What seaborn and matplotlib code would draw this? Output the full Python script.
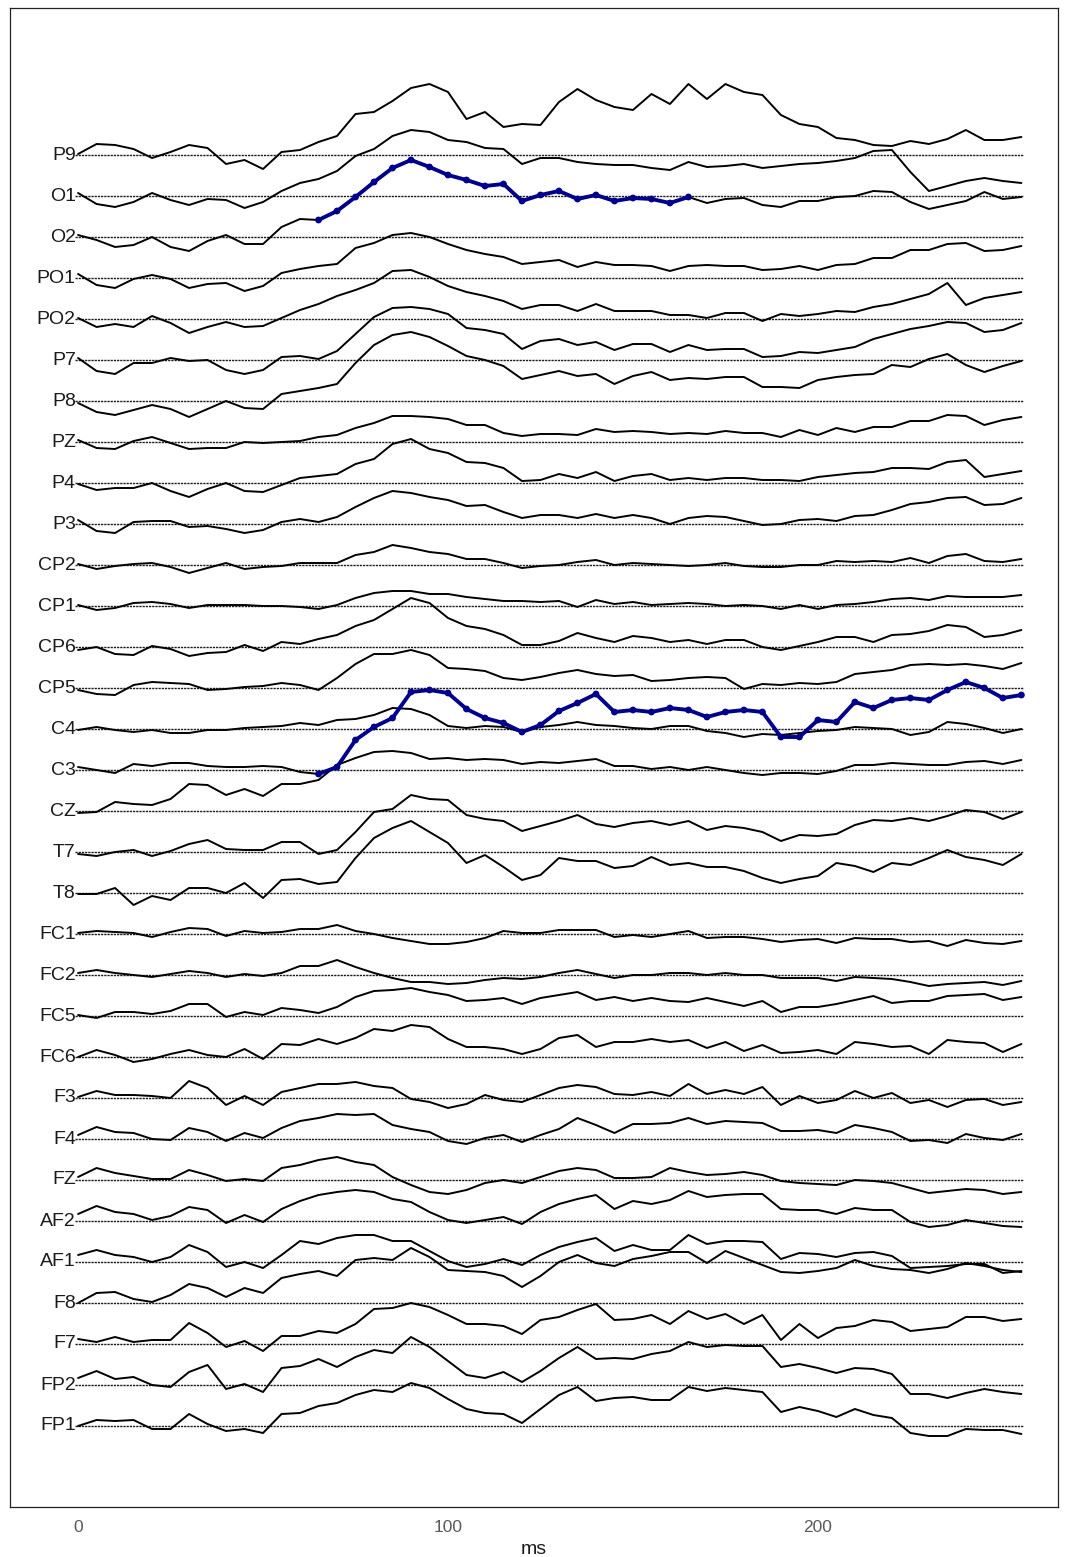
import numpy as np
import pandas as pd
import matplotlib
matplotlib.use("Agg")
import matplotlib.pyplot as plt
import seaborn as sns

# Sample times (ms)
time_ms = np.arange(0, 256, 5)

# Channels, listed from top to bottom of the stack
channels = ["P9", "O1", "O2", "PO1", "PO2", "P7", "P8", "PZ", "P4", "P3",
            "CP2", "CP1", "CP6", "CP5", "C4", "C3", "CZ", "T7", "T8", "FC1",
            "FC2", "FC5", "FC6", "F3", "F4", "FZ", "AF2", "AF1", "F8", "F7",
            "FP2", "FP1"]

# Averaged potentials per channel (arbitrary units, positive up)
P9 = [1, 11, 10, 6, -3, 3, 10, 7, -9, -5, -14, 3, 5, 13, 19, 41, 43, 54, 67, 71, 63, 36, 43, 28, 31, 30,
      53, 66, 55, 48, 45, 61, 51, 71, 56, 71, 63, 60, 40, 31, 28, 17, 15, 10, 9, 14, 11, 16, 25, 15, 15, 18]
O1 = [3, -8, -11, -6, 3, -4, -9, -3, -4, -12, -6, 5, 13, 17, 25, 40, 47, 60, 66, 64, 56, 54, 48, 47, 32, 38,
      38, 34, 32, 31, 31, 28, 26, 34, 29, 30, 32, 28, 30, 32, 33, 35, 38, 45, 46, 24, 5, 10, 15, 18, 15, 13]
O2 = [2, -3, -10, -8, 0, -10, -14, -4, 2, -7, -7, 10, 18, 17, 26, 40, 55, 69, 77, 70, 62, 57, 51, 53, 36, 42,
      46, 38, 42, 36, 39, 38, 34, 40, 34, 38, 39, 32, 30, 36, 36, 40, 41, 46, 45, 35, 28, 32, 36, 45, 38, 40]
PO1 = [4, -7, -10, -1, 3, -1, -10, -6, -5, -13, -8, 5, 9, 12, 14, 30, 35, 43, 45, 41, 34, 28, 24, 21, 14, 16,
       18, 11, 16, 13, 13, 12, 7, 12, 13, 12, 12, 8, 9, 12, 8, 13, 14, 20, 20, 28, 28, 34, 35, 27, 28, 32]
PO2 = [1, -8, -5, -8, 3, -4, -14, -8, -3, -8, -7, 1, 9, 15, 23, 29, 36, 48, 49, 42, 33, 27, 23, 18, 10, 14,
       14, 8, 15, 8, 8, 8, 4, 4, 1, 6, 6, -2, 5, 3, 5, 8, 7, 12, 15, 20, 25, 36, 14, 21, 24, 27]
P7 = [2, -11, -14, -3, -3, 2, -1, 0, -10, -14, -10, 3, 4, 1, 9, 26, 43, 52, 53, 51, 46, 32, 30, 26, 11, 19,
      21, 15, 18, 10, 16, 16, 8, 15, 10, 11, 11, 3, 4, 8, 7, 10, 13, 21, 26, 31, 34, 38, 37, 28, 30, 37]
P8 = [-2, -11, -14, -9, -4, -8, -16, -8, 0, -7, -8, 7, 10, 13, 17, 38, 56, 66, 69, 64, 55, 45, 41, 35, 22, 26,
      30, 25, 27, 17, 25, 29, 21, 23, 22, 24, 24, 14, 14, 13, 21, 24, 26, 27, 36, 34, 42, 47, 36, 29, 35, 40]
PZ = [2, -6, -7, 1, 5, -1, -7, -6, -6, 0, -1, 0, 1, 5, 7, 14, 19, 26, 26, 25, 23, 17, 17, 9, 6, 8,
      8, 7, 13, 10, 11, 10, 8, 9, 8, 11, 9, 9, 5, 12, 7, 14, 10, 15, 15, 21, 21, 27, 26, 17, 22, 25]
P4 = [-1, -7, -5, -5, 0, -8, -14, -6, 0, -8, -9, -2, 5, 7, 9, 19, 24, 39, 44, 34, 30, 21, 20, 15, 2, 3,
      9, 5, 11, 2, 7, 9, 3, 5, 3, 5, 5, 3, 3, 2, 6, 8, 10, 11, 15, 15, 14, 21, 23, 6, 9, 12]
P3 = [4, -7, -9, 2, 3, 3, -3, -2, -5, -9, -6, 2, 5, 2, 7, 17, 26, 33, 31, 27, 24, 18, 19, 12, 6, 9,
      9, 6, 10, 6, 9, 6, 0, 6, 8, 7, 3, -1, 0, 4, 5, 3, 8, 9, 14, 20, 22, 26, 27, 19, 20, 26]
CP2 = [1, -4, -1, 1, 2, -2, -8, -3, 2, -4, -2, -1, 2, 2, 2, 10, 13, 20, 17, 13, 11, 6, 6, 2, -3, -1,
       0, 3, 5, 0, 2, 1, 0, -1, 0, 2, -1, -2, -2, 0, 0, 4, 3, 4, 3, 7, 2, 9, 11, 4, 3, 6]
CP1 = [1, -4, -2, 3, 4, 2, -2, 1, 1, 1, 0, 0, -1, -3, 1, 8, 13, 15, 15, 12, 12, 9, 7, 5, 5, 4,
       5, -1, 6, 2, 4, 1, 2, 3, 2, 0, 1, 0, -3, 1, -3, 1, 2, 4, 7, 8, 6, 10, 9, 9, 9, 11]
CP6 = [-3, 0, -7, -8, 1, -2, -9, -6, -5, 2, -4, 5, 3, 8, 12, 21, 27, 38, 49, 44, 29, 21, 18, 12, 2, 2,
       6, 14, 9, 5, 11, 9, 5, 7, 3, 7, 7, 0, -3, 1, 5, 10, 10, 5, 12, 13, 16, 22, 20, 10, 12, 17]
CP5 = [-2, -6, -7, 3, 6, 5, 4, -2, -1, 1, 2, 5, 3, -2, 10, 24, 34, 34, 38, 33, 20, 19, 17, 10, 8, 11,
       15, 18, 14, 12, 13, 7, 8, 10, 11, 10, -1, 4, 3, 5, 4, 6, 14, 16, 18, 23, 24, 23, 24, 22, 19, 25]
C4 = [-1, 2, -1, -3, -1, -4, -4, -1, -1, 1, 2, 3, 6, 4, 9, 10, 14, 21, 20, 14, 3, 1, 3, 2, -3, 2,
      4, 7, 4, 3, 1, 0, 3, 3, -2, -4, -8, -5, -6, -4, -2, -1, 2, 1, 0, -6, -3, 7, 5, 1, -4, 0]
C3 = [3, 0, -3, 6, 4, 7, 7, 4, 3, 3, 4, 3, -2, -4, 3, 30, 43, 52, 78, 80, 77, 61, 52, 47, 38, 45,
      59, 67, 76, 58, 60, 58, 62, 60, 53, 58, 60, 58, 33, 33, 50, 48, 68, 62, 70, 72, 70, 80, 88, 82, 72, 75]
CZ = [-2, -1, 9, 7, 6, 12, 27, 26, 16, 22, 15, 27, 27, 31, 46, 53, 59, 60, 58, 52, 53, 51, 52, 51, 47, 49,
      48, 50, 52, 45, 45, 42, 44, 41, 44, 41, 38, 36, 38, 38, 37, 40, 46, 46, 48, 47, 46, 46, 49, 50, 47, 51]
T7 = [-2, -4, 0, 2, -4, 1, 8, 12, 3, 2, 2, 10, 10, -2, 2, 20, 40, 43, 57, 53, 52, 37, 33, 31, 21, 26,
      31, 37, 28, 25, 29, 31, 27, 31, 22, 26, 24, 20, 11, 17, 16, 18, 27, 32, 31, 34, 31, 36, 42, 40, 33, 40]
T8 = [-1, -1, 5, -12, -3, -7, 5, 5, 0, 10, -5, 13, 14, 9, 11, 35, 55, 65, 72, 61, 50, 30, 38, 26, 13, 18,
      35, 32, 32, 25, 27, 36, 28, 30, 26, 26, 22, 15, 10, 14, 17, 30, 27, 21, 30, 28, 35, 43, 36, 33, 28, 39]
FC1 = [1, 3, 2, 1, -3, 2, 6, 5, -2, 3, 1, 2, 5, 5, 9, 3, 0, -4, -7, -10, -10, -8, -4, 3, 1, 1,
       4, 4, 4, -3, -1, -3, 0, 3, -4, -3, -3, -5, -8, -6, -5, -9, -4, -5, -5, -8, -7, -12, -6, -9, -10, -7]
FC2 = [2, 5, 2, 0, -2, 1, 4, 2, -2, 1, -1, 2, 9, 9, 15, 8, 2, -3, -7, -7, -9, -8, -5, -3, -4, -2,
       2, 5, 1, -3, 0, 0, 2, 2, 0, 2, 0, 0, -3, -3, -3, -6, -2, -3, -4, -7, -11, -9, -8, -7, -10, -6]
FC5 = [1, -2, 4, 4, 2, 5, 12, 12, -1, 4, 1, 8, 6, 3, 9, 19, 25, 26, 28, 24, 21, 15, 16, 18, 12, 18,
       21, 24, 16, 19, 15, 18, 15, 14, 18, 14, 10, 15, 4, 9, 9, 12, 16, 20, 13, 15, 15, 20, 21, 22, 16, 19]
FC6 = [0, 7, 2, -5, -2, 3, 7, 2, 0, 8, -2, 13, 12, 18, 13, 19, 28, 26, 32, 30, 18, 10, 10, 8, 3, 8,
       19, 22, 10, 15, 15, 18, 15, 17, 9, 15, 6, 12, 4, 5, 7, 3, 15, 13, 10, 11, 3, 17, 15, 14, 5, 13]
F3 = [1, 7, 3, 3, 2, 0, 17, 10, -7, 2, -7, 6, 10, 14, 14, 16, 12, 10, -1, -4, -10, -6, 3, -2, -4, 3,
      10, 13, 11, 4, 3, 6, 2, 14, 4, 8, 4, 11, -7, 2, -5, -2, 7, 0, 5, -5, -2, -9, -2, -1, -7, -4]
F4 = [4, 12, 7, 6, 0, -1, 11, 7, -2, 6, 1, 11, 18, 21, 25, 24, 25, 14, 10, 7, -2, -5, 1, 4, -3, 4,
      10, 21, 14, 6, 15, 15, 16, 21, 15, 18, 17, 16, 8, 8, 9, 6, 14, 11, 7, -2, -1, -4, 5, 1, -1, 5]
FZ = [3, 12, 7, 4, 1, 1, 10, 5, -1, 1, -1, 12, 15, 20, 23, 18, 15, 3, -5, -12, -14, -10, -3, 0, -3, 3,
      9, 12, 10, 2, 2, 3, 12, 8, 5, 6, 8, 5, -1, -3, -4, -5, 0, -1, -3, -8, -13, -11, -9, -10, -14, -12]
AF2 = [7, 15, 9, 7, 1, 5, 14, 11, -2, 6, -1, 12, 20, 26, 29, 31, 29, 22, 19, 9, 1, -2, 1, 4, -3, 9,
       17, 22, 26, 12, 20, 17, 21, 30, 24, 26, 27, 27, 12, 11, 11, 7, 13, 11, 11, -1, -6, -4, 1, -2, -5, -6]
AF1 = [7, 12, 7, 5, 0, 5, 17, 10, -5, 0, -6, 7, 21, 18, 24, 27, 27, 21, 21, 11, 1, -5, -2, 3, -3, 7,
       15, 20, 24, 11, 17, 12, 12, 27, 18, 21, 21, 20, 3, 9, 8, 5, 9, 10, 6, -6, -5, -4, -2, -2, -11, -9]
F8 = [0, 10, 11, 4, 1, 8, 19, 15, 6, 15, 10, 25, 29, 32, 27, 43, 45, 43, 55, 46, 33, 32, 31, 27, 16, 27,
      41, 48, 40, 37, 44, 47, 51, 51, 40, 52, 45, 38, 31, 30, 32, 35, 43, 37, 34, 33, 30, 34, 40, 37, 33, 31]
F7 = [5, 2, 7, 2, 4, 4, 21, 11, -3, 3, -7, 8, 8, 13, 11, 20, 35, 36, 41, 37, 29, 20, 20, 18, 10, 24,
      27, 34, 40, 24, 25, 29, 20, 33, 25, 30, 20, 29, 4, 20, 6, 16, 18, 24, 22, 13, 15, 17, 27, 27, 23, 25]
FP2 = [7, 14, 6, 8, 0, -2, 13, 20, -4, 1, -7, 17, 19, 26, 18, 28, 35, 32, 48, 38, 24, 10, 7, 13, 3, 14,
       27, 38, 26, 27, 26, 31, 34, 43, 38, 40, 39, 39, 18, 21, 17, 12, 17, 16, 11, -9, -9, -13, -8, -4, -7, -9]
FP1 = [0, 6, 5, 6, -3, -3, 12, 2, -5, -3, -7, 12, 13, 20, 23, 31, 36, 34, 43, 38, 27, 17, 13, 12, 3, 17,
       31, 39, 25, 28, 29, 26, 26, 39, 35, 38, 36, 34, 14, 19, 15, 9, 17, 11, 8, -7, -10, -10, -3, -4, -4, -8]

amplitudes = {
    "P9": P9, "O1": O1, "O2": O2, "PO1": PO1, "PO2": PO2, "P7": P7, "P8": P8,
    "PZ": PZ, "P4": P4, "P3": P3, "CP2": CP2, "CP1": CP1, "CP6": CP6, "CP5": CP5,
    "C4": C4, "C3": C3, "CZ": CZ, "T7": T7, "T8": T8, "FC1": FC1, "FC2": FC2,
    "FC5": FC5, "FC6": FC6, "F3": F3, "F4": F4, "FZ": FZ, "AF2": AF2, "AF1": AF1,
    "F8": F8, "F7": F7, "FP2": FP2, "FP1": FP1,
}

# Time windows (ms) flagged on individual channels
highlight = {"O2": (65, 165), "C3": (65, 255)}

spacing = 41
n_ch = len(channels)
offsets = {ch: (n_ch - 1 - i) * spacing for i, ch in enumerate(channels)}

rows = []
for ch in channels:
    for t, v in zip(time_ms, amplitudes[ch]):
        rows.append({"time": t, "channel": ch, "value": v,
                     "y": v + offsets[ch]})
df = pd.DataFrame(rows)

mask = np.zeros(len(df), dtype=bool)
for ch, (t0, t1) in highlight.items():
    mask |= (df["channel"] == ch) & (df["time"] >= t0) & (df["time"] <= t1)
df_hl = df[mask]

sns.set_theme(style="white")
plt.rcParams["font.family"] = ["Liberation Sans", "DejaVu Sans"]

fig = plt.figure(figsize=(10.68, 15.57), dpi=100)
ax = fig.add_axes([10 / 1068, 1 - 1507 / 1557, 1048 / 1068, 1499 / 1557])

# Baselines and channel names
for ch in channels:
    ax.hlines(offsets[ch], -0.8, 255.5, colors="#1a1a1a", linewidth=1.0,
              linestyles=(0, (1.6, 0.7)), zorder=1)
    ax.text(-0.6, offsets[ch], ch, ha="right", va="center", fontsize=14,
            color="#1a1a1a", zorder=3)

sns.lineplot(data=df, x="time", y="y", units="channel", estimator=None,
             color="black", linewidth=1.4, ax=ax, zorder=2, legend=False,
             solid_joinstyle="round", solid_capstyle="round")

sns.lineplot(data=df_hl, x="time", y="y", units="channel", estimator=None,
             color="#00008B", linewidth=2.8, ax=ax, zorder=4, legend=False,
             solid_joinstyle="round", solid_capstyle="round")
sns.scatterplot(data=df_hl, x="time", y="y", color="#00008B", s=24,
                edgecolor="none", ax=ax, zorder=5, legend=False)

ax.set_xlim(-18.4, 264.9)
ax.set_ylim(-81, (n_ch - 1) * spacing + 147)
ax.set_yticks([])
ax.set_xticks([0, 100, 200])
ax.tick_params(axis="x", length=0, pad=9, labelsize=12.5, labelcolor="#595959")
ax.set_ylabel("")
ax.set_xlabel("ms", fontsize=14, color="#1a1a1a", labelpad=5)
for sp in ax.spines.values():
    sp.set_visible(True)
    sp.set_color("#222222")
    sp.set_linewidth(0.9)

fig.savefig("out.png", dpi=100)
